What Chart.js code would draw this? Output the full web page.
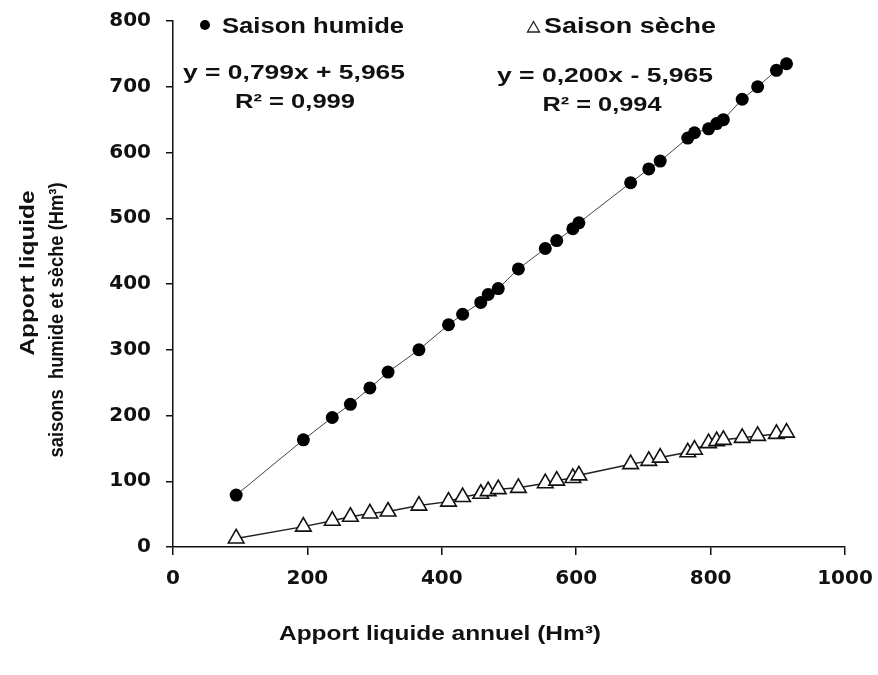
<!DOCTYPE html>
<html>
<head>
<meta charset="utf-8">
<script src="https://cdn.jsdelivr.net/npm/chart.js@4.4.0/dist/chart.umd.min.js"></script>
<style>
html,body{margin:0;padding:0;background:#fff;}
#wrap{width:878px;height:675px;position:relative;}
</style>
</head>
<body>
<div id="wrap"><canvas id="c" width="878" height="675"></canvas></div>
<script>
// Annual liquid inflow (Hm3) - x values
const annualInflow = [94,194,237,264,293,320,366,410,431,458,469,484,514,554,571,595,604,681,708,725,766,776,797,809,819,847,870,898,913];
// Wet season inflow (Hm3)
const wetSeason = [79,163,197,217,242,266,300,338,354,372,384,393,423,454,466,484,493,554,575,587,622,630,636,644,650,681,700,725,735];
// Dry season inflow (Hm3)
const drySeason = [13,31,40,46,51,54,63,69,76,81,85,88,90,97,101,105,109,126,131,136,144,148,158,161,163,166,169,172,174];

const seriesNames = ["Saison humide", "Saison sèche"];
const equations = ["y = 0,799x + 5,965", "y = 0,200x - 5,965"];
const rSquared = ["R² = 0,999", "R² = 0,994"];
const xTitle = "Apport liquide annuel (Hm³)";
const yTitleLines = ["Apport liquide", "saisons  humide et sèche (Hm³)"];
const xRange = [0, 1000];
const yRange = [0, 800];

const toPts = (xs, ys) => xs.map((x, i) => ({x: x, y: ys[i]}));

const TXT = '#111';
const FONT = '"Liberation Sans", Arial, sans-serif';

function drawText(ctx, text, cx, base, size, width) {
  ctx.save();
  ctx.font = 'bold ' + size + 'px ' + FONT;
  const w = ctx.measureText(text).width;
  const s = width ? width / w : 1;
  ctx.translate(cx, base);
  ctx.scale(s, 1);
  ctx.textAlign = 'center';
  ctx.textBaseline = 'alphabetic';
  ctx.fillStyle = TXT;
  ctx.fillText(text, 0, 0);
  ctx.restore();
}
function drawVText(ctx, text, cx, cy, size, length) {
  ctx.save();
  ctx.font = 'bold ' + size + 'px ' + FONT;
  const w = ctx.measureText(text).width;
  const s = length ? length / w : 1;
  ctx.translate(cx, cy);
  ctx.rotate(-Math.PI / 2);
  ctx.scale(s, 1);
  ctx.textAlign = 'center';
  ctx.textBaseline = 'middle';
  ctx.fillStyle = TXT;
  ctx.fillText(text, 0, 0);
  ctx.restore();
}

const annotations = {
  id: 'annotations',
  afterDraw(chart) {
    const ctx = chart.ctx;
    ctx.save();
    ctx.fillStyle = '#000';
    ctx.beginPath(); ctx.arc(205, 25, 5, 0, Math.PI * 2); ctx.fill();
    ctx.strokeStyle = '#222'; ctx.lineWidth = 1.3;
    ctx.beginPath(); ctx.moveTo(533.5, 21.5); ctx.lineTo(539.5, 32); ctx.lineTo(527.5, 32); ctx.closePath(); ctx.stroke();
    ctx.restore();
    drawText(ctx, seriesNames[0], 313, 33, 22, 182);
    drawText(ctx, seriesNames[1], 630, 33, 22, 172);
    drawText(ctx, equations[0], 294, 79, 21, 222);
    drawText(ctx, rSquared[0], 295, 108, 21, 120);
    drawText(ctx, equations[1], 605, 82, 21, 216);
    drawText(ctx, rSquared[1], 602, 111, 21, 119);
    drawText(ctx, xTitle, 440, 640, 21, 322);
    drawVText(ctx, yTitleLines[0], 28, 273, 21, 165);
    drawVText(ctx, yTitleLines[1], 57, 320, 21, 275);
  }
};

new Chart(document.getElementById('c'), {
  type: 'scatter',
  data: {
    datasets: [
      {
        label: seriesNames[0],
        data: toPts(annualInflow, wetSeason),
        showLine: true,
        borderColor: '#444',
        borderWidth: 1,
        pointStyle: 'circle',
        pointRadius: 6.5,
        pointHoverRadius: 6.5,
        pointBackgroundColor: '#000',
        pointBorderColor: '#000',
        pointBorderWidth: 0
      },
      {
        label: seriesNames[1],
        data: toPts(annualInflow, drySeason),
        showLine: true,
        borderColor: '#222',
        borderWidth: 1.5,
        pointStyle: 'triangle',
        pointRadius: 9,
        pointHoverRadius: 9,
        pointBackgroundColor: '#fff',
        pointBorderColor: '#111',
        pointBorderWidth: 1.6
      }
    ]
  },
  options: {
    responsive: false,
    animation: false,
    devicePixelRatio: 1,
    layout: { padding: { left: 0, top: 21, right: 33, bottom: 0 } },
    plugins: { legend: { display: false }, tooltip: { enabled: false }, title: { display: false } },
    scales: {
      x: {
        type: 'linear',
        min: xRange[0], max: xRange[1],
        afterFit(scale) { scale.height = 128; scale.paddingLeft = 0; scale.paddingRight = 0; },
        border: { display: true, color: '#111', width: 1.5 },
        grid: { drawOnChartArea: false, drawTicks: true, tickLength: 8, color: '#111', lineWidth: 1.5 },
        ticks: { stepSize: 200, color: TXT, padding: 12, maxRotation: 0,
                 callback: (v) => String(v),
                 font: { family: '"DejaVu Sans"', weight: 'bold', size: 20 } }
      },
      y: {
        type: 'linear',
        min: yRange[0], max: yRange[1],
        afterFit(scale) { scale.width = 173; scale.paddingTop = 0; scale.paddingBottom = 0; },
        border: { display: true, color: '#111', width: 1.5 },
        grid: { drawOnChartArea: false, drawTicks: true, tickLength: 7, color: '#111', lineWidth: 1.5 },
        ticks: { stepSize: 100, color: TXT, padding: 15,
                 callback: (v) => String(v),
                 font: { family: '"DejaVu Sans"', weight: 'bold', size: 20 } }
      }
    }
  },
  plugins: [annotations]
});
</script>
</body>
</html>
